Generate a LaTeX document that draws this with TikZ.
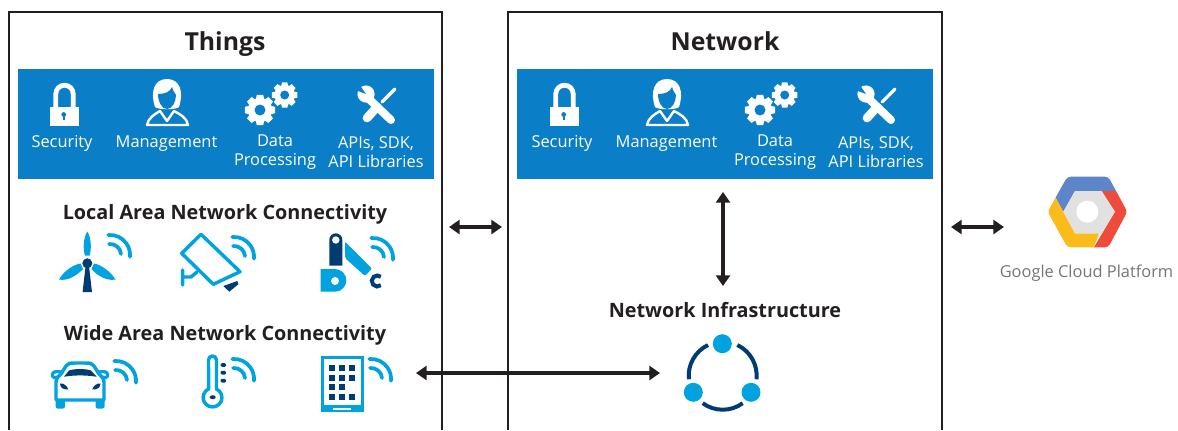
\documentclass[tikz,border=0pt]{standalone}
\usepackage{fontspec}
\setmainfont{Open Sans}
\usepackage{tikz}
\usetikzlibrary{arrows.meta, calc, positioning}

\definecolor{barblue}{HTML}{0A7EC7}
\definecolor{skyblue}{HTML}{00A3E0}
\definecolor{navy}{HTML}{003C71}
\definecolor{inkblack}{HTML}{231F20}
\definecolor{gblue}{HTML}{5C86C9}
\definecolor{gred}{HTML}{EE4B3A}
\definecolor{gyellow}{HTML}{FBBC1B}
\definecolor{ggrey}{HTML}{E1E1E1}
\definecolor{gtext}{HTML}{757575}

\tikzset{
  panel/.style={draw=inkblack, line width=1.8pt},
  link/.style={{Triangle[length=8pt,width=10.5pt]}-{Triangle[length=8pt,width=10.5pt]}, draw=inkblack, line width=2.7pt},
  heading/.style={font=\fontsize{18.6}{22}\selectfont\bfseries, text=inkblack, inner sep=0pt, anchor=base},
  subheading/.style={font=\fontsize{14.85}{18}\selectfont\bfseries, text=inkblack, inner sep=0pt, anchor=base},
  barlabel/.style={font=\fontsize{12.3}{14.3}\selectfont, text=white, align=center, inner sep=0pt},
  wave/.style={draw=skyblue, line width=2.8pt, line cap=round},
  outline/.style={draw=skyblue, line width=2.6pt, line join=round, fill=white}
}

\newcommand{\wifiarcs}[2]{
  \draw[wave] (#1-0.9,#2-11) arc[start angle=265, end angle=355, radius=11];
  \draw[wave] (#1-1.7,#2-20) arc[start angle=265, end angle=365, radius=20];
}

\newcommand{\gearicon}[4]{
  \foreach \a in {0,45,...,315} {
    \fill[white] ($(#1,#2)+(\a-12:#3)$) -- ($(#1,#2)+(\a+12:#3)$)
      -- ($(#1,#2)+(\a+22:#3*0.72)$) -- ($(#1,#2)+(\a-22:#3*0.72)$) -- cycle;
  }
  \fill[white] (#1,#2) circle[radius=#3*0.78];
  \fill[barblue] (#1,#2) circle[radius=#4];
}

\newcommand{\toolbar}[2]{
  \begin{scope}[shift={(#1,0)}]
    \fill[barblue] (18-#2,69) rectangle (434-#2,179);
    \fill[white] (50,107) rectangle (79,125.7);
    \draw[white, line width=3.6pt] (55.8,107) -- (55.8,93.9) arc[start angle=180, end angle=360, radius=8.7] -- (73.2,107);
    \fill[barblue] (63.7,114.5) circle[radius=2.4];
    \fill[barblue] (62.6,114.5) rectangle (64.8,120);
    \fill[white] (155,107) .. controls (150,92) and (154,79) .. (167,79)
      .. controls (180,79) and (184,92) .. (179,107)
      .. controls (176,110) and (158,110) .. (155,107) -- cycle;
    \fill[barblue] (158,94) .. controls (165,94) and (170,92) .. (172,87)
      .. controls (173,91) and (175,93) .. (176,95)
      .. controls (176,102) and (172,109) .. (167,109)
      .. controls (162,109) and (158,102) .. (158,94) -- cycle;
    \draw[white, line width=1.8pt, line join=round, fill=barblue] (147,125)
      .. controls (148,118) and (155,114) .. (160,111) -- (167,121) -- (174,111)
      .. controls (180,114) and (187,118) .. (188,125) -- cycle;
    \gearicon{260}{110}{15.5}{5.5}
    \gearicon{284.7}{95}{13}{4.5}
    \draw[white, line width=2.4pt, line cap=round] (382,102) -- (395,89);
    \draw[white, line width=6.5pt, line cap=round] (377,107) -- (367,118);
    \draw[barblue, line width=9.5pt] (373,92) -- (381,100);
    \draw[white, line width=6pt, line cap=round] (369,99) -- (391,120);
    \fill[white] (366,94) circle[radius=8.6];
    \fill[barblue] (366,94) -- (357,81) -- (350,88) -- cycle;
    \node (sec#1) [barlabel, anchor=base] at (62,147) {Security};
    \node (man#1) [barlabel, anchor=base] at (166.5,147) {Management};
    \node (dat#1) [barlabel] at (275,152.3) {Data\\Processing};
    \node (api#1) [barlabel] at (376,152.3) {APIs, SDK,\\API Libraries};
  \end{scope}
}

\begin{document}
\begin{tikzpicture}[x=0.75pt, y=-0.75pt]
  \useasboundingbox (0,0) rectangle (1178,430);

  \draw[panel] (9,430) -- (9,12) -- (442,12) -- (442,430);
  \draw[panel] (508,430) -- (508,12) -- (942,12) -- (942,430);

  \node (things) [heading] at (225,50) {Things};
  \node (network) [heading] at (725,50) {Network};
  \toolbar{0}{0}
  \toolbar{500}{1}

  \node (lan) [subheading] at (225,219) {Local Area Network Connectivity};
  \node (wan) [subheading] at (225,340) {Wide Area Network Connectivity};
  \node (infra) [subheading] at (725,317) {Network Infrastructure};

  % turbine
  \fill[skyblue] (87.3,231.5) .. controls (83,238) and (83,250) .. (85,255.5) -- (89.6,255.5) .. controls (91.5,250) and (91.5,238) .. (87.3,231.5) -- cycle;
  \fill[skyblue] (59,279.5) .. controls (64,270.5) and (74,264.5) .. (80.5,263.5) -- (83,269) .. controls (78,274.5) and (68,281.5) .. (59,279.5) -- cycle;
  \fill[skyblue] (115.5,279.5) .. controls (110,270.5) and (100,264.5) .. (94,263.5) -- (91.5,269) .. controls (96,274.5) and (106,281.5) .. (115.5,279.5) -- cycle;
  \fill[navy] (87.3,263.3) circle[radius=5];
  \fill[navy] (85.6,266) -- (89,266) -- (92,292) -- (82.6,292) -- cycle;
  \wifiarcs{110}{255}

  % camera
  \draw[skyblue, line width=2.6pt, line join=round, line cap=round] (182.7,270) -- (182.7,285) (182.7,277) -- (191,277) -- (197,272);
  \draw[outline] (201,234.3) -- (181.7,253.3) -- (213.3,284.3) -- (240,271.7) -- cycle;
  \fill[navy] (223.3,286) -- (237.3,281) -- (238.3,284.3) -- (229.3,291.7) -- cycle;
  \wifiarcs{234}{257}

  % arm
  \fill[navy] (329.3,265.7) -- (329.3,239.8) arc[start angle=180, end angle=360, radius=6.5] -- (342.3,265.7) -- cycle;
  \fill[white] (335.8,240) circle[radius=3.7];
  \fill[skyblue] (320.7,269) -- (335,269) arc[start angle=270, end angle=450, radius=11.35] -- (320.7,291.7) -- cycle;
  \fill[white] (335,281) circle[radius=4];
  \fill[skyblue, rounded corners=1.5pt] (345,241.5) -- (345,258) -- (365,276) -- (372,268.5) -- cycle;
  \draw[navy, line width=3pt] (377.3,281) ++(50:5.5) arc[start angle=50, end angle=310, radius=5.5];
  \wifiarcs{373}{258}

  % car
  \fill[skyblue, rounded corners=1.5pt] (55.7,398) rectangle (65,408.5);
  \fill[skyblue, rounded corners=1.5pt] (95.5,398) rectangle (104.5,408.5);
  \draw[skyblue, line width=2.4pt, line join=round, fill=white] (60,377) -- (54,377.5) .. controls (51,376) and (52,372) .. (56,371.5) -- (62,372);
  \draw[skyblue, line width=2.4pt, line join=round, fill=white] (100,377) -- (106,377.5) .. controls (109,376) and (108,372) .. (104,371.5) -- (98,372);
  \draw[outline] (56,400) -- (104,400) -- (104,382) .. controls (104,378) and (101,376) .. (99,374) -- (94,366)
    .. controls (92,363) and (90,363) .. (85,363) -- (75,363) .. controls (70,363) and (68,363) .. (66,366)
    -- (61,374) .. controls (59,376) and (56,378) .. (56,382) -- cycle;
  \fill[navy] (64,376.7) -- (69,370.5) .. controls (75,368.5) and (85,368.5) .. (91,370.5) -- (96.7,376.7) .. controls (85,375) and (75,375) .. (64,376.7) -- cycle;
  \fill[navy] (60,383.5) .. controls (64,383) and (67,386) .. (68.3,389.3) .. controls (64,390) and (60,388) .. (60,383.5) -- cycle;
  \fill[navy] (100.5,383.5) .. controls (96.5,383) and (93.5,386) .. (92.2,389.3) .. controls (96.5,390) and (100.5,388) .. (100.5,383.5) -- cycle;
  \wifiarcs{116}{381}

  % thermometer
  \draw[outline] (208.5,360) arc[start angle=180, end angle=360, radius=4] -- (216.5,389)
    arc[start angle=-65, end angle=245, radius=9.4] -- cycle;
  \fill[navy] (212.7,397.2) ellipse[x radius=3, y radius=2];
  \foreach \y in {365,372.7,380.7} {
    \fill[navy, rounded corners=1pt] (220.6,\y-1.9) rectangle (226,\y+1.9);
  }
  \wifiarcs{234}{379}

  % tablet
  \fill[skyblue] (320.7,356) rectangle (364,411.7);
  \fill[white] (324,359.3) rectangle (360.7,405);
  \fill[white] (333,407.5) rectangle (350.7,409.5);
  \foreach \x/\y in {332.3/367.7,342/367.7,352/367.7,332.3/377.7,342/377.7,352/377.7,332.3/387.3,342/387.3,332.3/397.3,342/397.3,352/397.3} {
    \fill[navy] (\x-3,\y-3) rectangle (\x+3,\y+3);
  }
  \wifiarcs{371}{379}

  % ring
  \draw[navy, line width=3pt] (722.7,375.7) ++(54:34) arc[start angle=54, end angle=126, radius=34];
  \draw[navy, line width=3pt] (722.7,375.7) ++(-64.5:34) arc[start angle=-64.5, end angle=6, radius=34];
  \draw[navy, line width=3pt] (722.7,375.7) ++(174:34) arc[start angle=174, end angle=244.5, radius=34];
  \fill[skyblue] (722.3,343.7) circle[radius=9.5];
  \fill[skyblue] (693.3,392.3) circle[radius=9.5];
  \fill[skyblue] (751,392.3) circle[radius=9.5];

  % logo
  \begin{scope}
    \clip[rounded corners=2.5pt] (1067.3,176.7) -- (1108.3,176.7) -- (1127.3,211.7) -- (1108.3,247.3) -- (1067.3,247.3) -- (1047.7,211.7) -- cycle;
    \fill[gblue] (1040,185) -- (1060,170) -- (1120,170) -- (1118,191) -- (1075,191) -- (1063.3,211.7) -- (1056,198.3) -- cycle;
    \fill[gyellow] (1056,198.3) -- (1063.3,211.7) -- (1075,233.3) -- (1099.3,233.3) -- (1092.3,250) -- (1040,250) -- (1040,198.3) -- cycle;
    \fill[gred] (1100.7,191) -- (1116,191) -- (1135,200) -- (1135,250) -- (1092.3,250) -- (1115,211.7) -- cycle;
  \end{scope}
  \fill[ggrey] (1075,191) -- (1101.7,191) -- (1115,211.7) -- (1101.7,233.3) -- (1075,233.3) -- (1063.3,211.7) -- cycle;
  \fill[white] (1087.3,211.7) circle[radius=11];
  \node (google) [font=\fontsize{12.3}{15}\selectfont, text=gtext, inner sep=0pt, anchor=base] at (1086.5,277) {Google Cloud Platform};

  \coordinate (thingsout) at (449,227);
  \coordinate (networkin) at (502,227);
  \coordinate (networkout) at (951,227);
  \coordinate (cloud) at (1004,227);
  \coordinate (barend) at (723,192);
  \coordinate (infratop) at (723,286);
  \coordinate (tablet) at (416,373);
  \coordinate (ring) at (660,373);

  \draw[link] (thingsout) -- (networkin);
  \draw[link] (networkout) -- (cloud);
  \draw[link] (barend) -- (infratop);
  \draw[link] (tablet) -- (ring);
\end{tikzpicture}
\end{document}
